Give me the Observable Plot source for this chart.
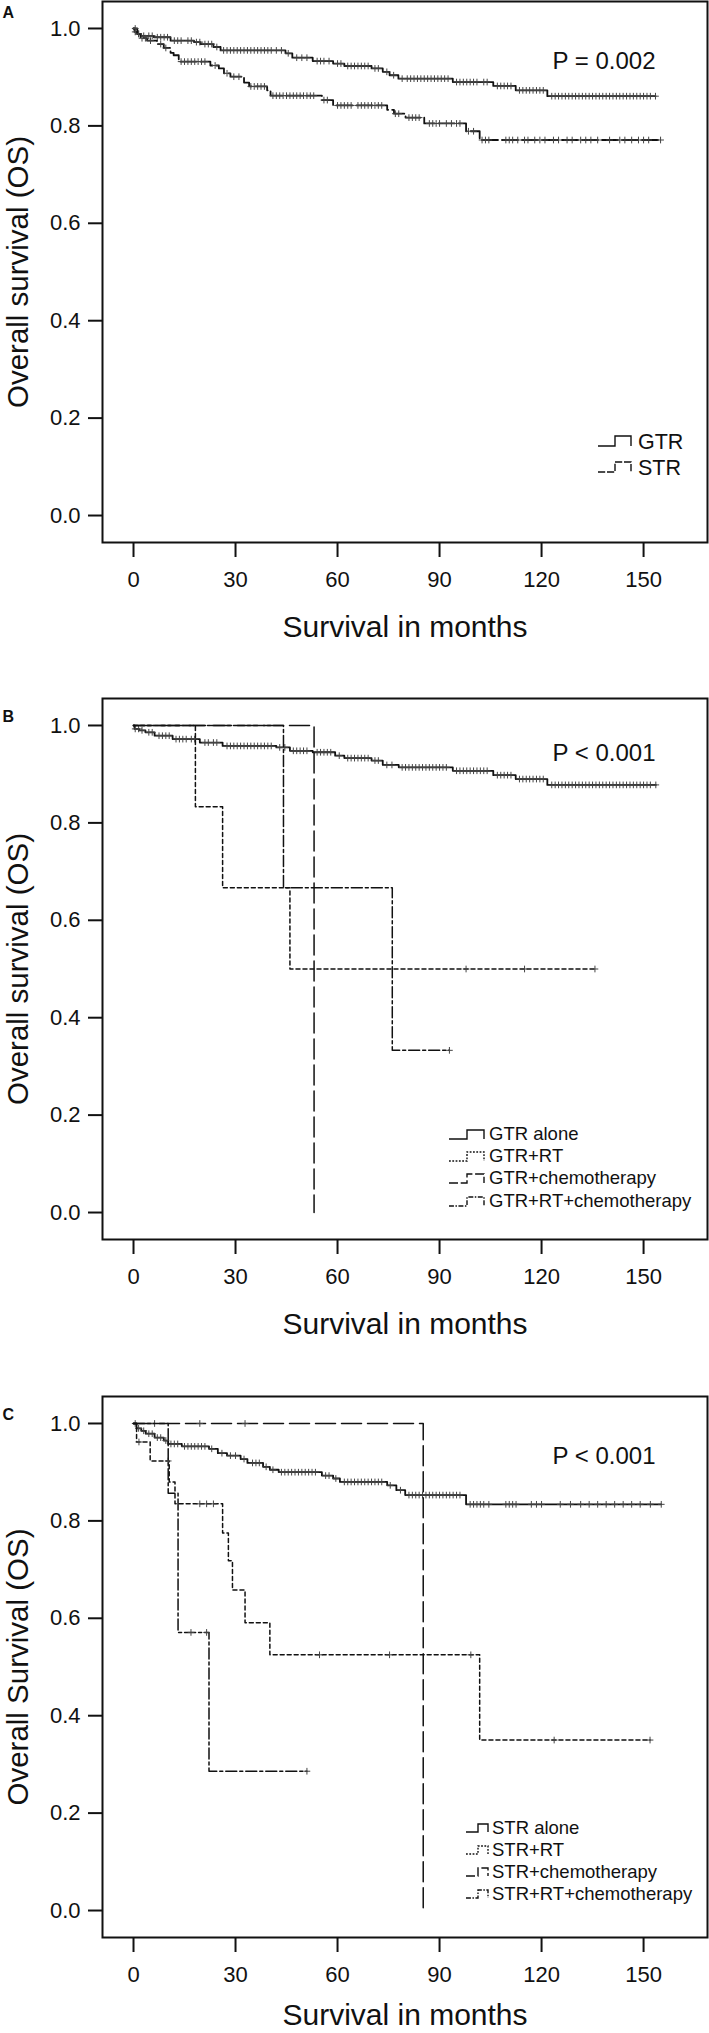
<!DOCTYPE html>
<html><head><meta charset="utf-8">
<script src="https://cdn.jsdelivr.net/npm/d3@7"></script>
<script src="https://cdn.jsdelivr.net/npm/@observablehq/plot@0.6"></script>
<style>
body{margin:0;background:#fff;}
#chart{width:709px;height:2033px;overflow:hidden;}
#chart svg{display:block;}
</style></head><body><div id="chart"></div>
<script>
// ---------- shared axis data ----------
const xTicks = [0, 30, 60, 90, 120, 150];
const yTicks = [0, 0.2, 0.4, 0.6, 0.8, 1.0];
const xTitle = "Survival in months";

// ---------- Panel A ----------
const aGTR_t = [0.3, 1.1, 2.1, 6.0, 10.9, 17.8, 19.7, 23.5, 25.6, 44.7, 46.7, 52.7, 58.7, 62.0, 70.0, 73.3, 75.3, 77.9, 93.9, 105.8, 112.4, 121.7];
const aGTR_s = [0.993, 0.989, 0.985, 0.982, 0.975, 0.972, 0.968, 0.962, 0.955, 0.949, 0.940, 0.933, 0.928, 0.923, 0.918, 0.911, 0.904, 0.897, 0.890, 0.882, 0.873, 0.861];
const aGTR_end = 153.5;
const aGTR_c = [0.5, 1.5, 3, 4.5, 5.5, 7, 8, 9, 10, 12, 13, 14, 16, 17, 18.5, 19.5, 21, 22, 23, 24.5, 26.5, 27.5, 28.5, 29.5, 30.5, 31.5, 32.5, 33.5, 34.5, 35.5, 36.5, 37.5, 38.5, 39.5, 40.5, 42, 43.5, 45.5, 48, 49.5, 51, 54, 55, 56, 57.5, 60, 61, 63, 64, 65, 66, 67, 68, 69, 71, 72, 74.5, 76.5, 79, 80.5, 81.5, 82.5, 83.5, 84.5, 85.5, 86.5, 87.5, 88.5, 89.5, 90.5, 91.5, 92.5, 95, 96, 97, 98, 99, 100, 101, 103, 104, 107, 108, 109, 110, 111, 113.5, 114.5, 115.5, 116.5, 117.5, 118.5, 119.5, 120.5, 123, 124, 125, 126, 127, 128, 129, 130, 131, 132, 133, 134, 135, 136, 137, 138, 139, 140, 141, 142, 143, 144, 145, 146, 147, 148, 149, 150, 151, 152, 153.5];

const aSTR_t = [1.1, 2.1, 4.0, 6.9, 8.9, 10.9, 11.8, 13.3, 22.6, 25.1, 26.6, 28.5, 32.5, 34.0, 39.3, 40.3, 55.4, 58.7, 74.6, 76.6, 80.0, 85.5, 97.8, 101.8];
const aSTR_s = [0.989, 0.980, 0.975, 0.968, 0.960, 0.950, 0.945, 0.932, 0.924, 0.918, 0.908, 0.901, 0.889, 0.881, 0.873, 0.862, 0.853, 0.842, 0.833, 0.825, 0.817, 0.805, 0.789, 0.771];
const aSTR_end = 155;
const aSTR_c = [0.5, 1.5, 2.5, 3.5, 5, 8, 9.5, 14, 15, 16, 17, 18, 19, 20, 21, 24, 27.5, 29.5, 31, 34.5, 35.5, 36.5, 37.5, 38.5, 41, 42, 43, 44, 45, 46, 47, 48, 49, 50, 51, 52, 53, 56, 57, 60, 61, 62, 63, 64, 66, 67, 68, 69, 70, 71, 72, 73, 77, 78, 81, 82, 83, 84, 87, 88, 89, 90, 92, 93.5, 95, 96, 98.5, 100, 102.5, 103.5, 104.5, 109.5, 110.5, 111.5, 113, 115, 116, 118, 119.5, 121, 123.5, 125, 127.5, 129, 131.5, 133, 134.5, 136.5, 140, 143, 144.5, 146.5, 148.5, 150, 151.5, 155];

// ---------- Panel B ----------
const bAlone_t = [0.3, 1.6, 3.5, 6.2, 11.5, 19.5, 26.2, 42.0, 46.0, 52.7, 59.3, 62.0, 70.0, 73.3, 78.0, 93.9, 105.8, 112.4, 121.7];
const bAlone_s = [0.993, 0.990, 0.986, 0.979, 0.972, 0.965, 0.958, 0.955, 0.948, 0.945, 0.938, 0.933, 0.928, 0.919, 0.914, 0.907, 0.898, 0.890, 0.878];
const bAlone_end = 153.6;
const bAlone_c = [0.5, 1.5, 2.5, 4.5, 5.5, 7.5, 8.5, 9.5, 10.5, 12.5, 13.5, 14.5, 15.5, 17, 18, 21, 22, 23.5, 24.5, 27.5, 28.5, 29.5, 30.5, 31.5, 32.5, 33.5, 34.5, 35.5, 36.5, 37.5, 38.5, 39.5, 40.5, 43, 44.5, 47, 48, 49, 50, 51, 54, 55, 56, 57, 58, 60.5, 63, 64, 65, 66, 67, 68, 69, 71, 72, 74.5, 76, 79, 80, 81, 82, 83, 84, 85, 86, 87, 88, 89, 90, 91, 92, 95, 96, 97, 98, 99, 100, 101, 102, 103, 104, 107, 108, 109, 110, 111, 113.5, 114.5, 115.5, 116.5, 117.5, 118.5, 119.5, 120.5, 123, 124, 125, 126, 127, 128, 129, 130, 131, 132, 133, 134, 135, 136, 137, 138, 139, 140, 141, 142, 143, 144, 145, 146, 147, 148, 149, 150, 151, 152, 153.6];

const bRT_t = [18.2, 26.2, 46.0];
const bRT_s = [0.833, 0.667, 0.5];
const bRT_end = 135.7;
const bRT_c = [97.8, 115.0, 135.7];

const bChemo_t = [53.1];
const bChemo_s = [0];
const bChemo_end = 53.1;
const bChemo_c = [];

const bRTChemo_t = [44.1, 76.1];
const bRTChemo_s = [0.667, 0.333];
const bRTChemo_end = 92.9;
const bRTChemo_c = [92.9];

// ---------- Panel C ----------
const cAlone_t = [0.9, 2.3, 3.6, 6.2, 8.9, 10.2, 14.2, 22.2, 24.8, 27.5, 31.5, 33.5, 38.1, 40.1, 42.7, 55.4, 58.7, 60.7, 74.6, 77.3, 79.9, 97.8];
const cAlone_s = [0.990, 0.985, 0.979, 0.971, 0.965, 0.958, 0.953, 0.948, 0.939, 0.934, 0.927, 0.919, 0.911, 0.905, 0.900, 0.893, 0.887, 0.880, 0.873, 0.863, 0.853, 0.834];
const cAlone_end = 155.2;
const cAlone_c = [0.5, 1.5, 3, 4.5, 5.5, 7, 8, 9.5, 11, 12, 13, 15, 16, 17, 18, 19, 20, 21, 23, 26, 28.5, 30, 32.5, 35, 36, 37, 39, 41, 43.5, 44.5, 45.5, 46.5, 47.5, 48.5, 49.5, 50.5, 51.5, 52.5, 53.5, 56.5, 57.5, 59.5, 62, 63, 64, 65, 66, 67, 68, 69, 70, 71, 72, 73, 75.5, 78.5, 81, 82, 83, 84, 85, 86, 87, 88, 89, 90, 91, 92, 93, 94, 95, 96, 99, 100, 101, 102, 103, 104.5, 109.5, 110.5, 111.5, 112.5, 117, 118.5, 120, 125.5, 128.5, 131.5, 134, 136.5, 139, 141.5, 144, 146.5, 149, 152, 155.2];

const cRT_t = [0.9, 4.9, 10.5, 12.2, 26.2, 27.9, 29.1, 32.8, 40.1, 101.8];
const cRT_s = [0.962, 0.923, 0.880, 0.835, 0.775, 0.718, 0.658, 0.591, 0.525, 0.350];
const cRT_end = 151.9;
const cRT_c = [1.6, 10.2, 19.5, 21.5, 23.5, 54.7, 75.3, 99.2, 123.7, 151.9];

const cChemo_t = [85.2];
const cChemo_s = [0];
const cChemo_end = 85.2;
const cChemo_c = [6.2, 19.5, 32.8];

const cRTChemo_t = [10.2, 13.1, 22.2];
const cRTChemo_s = [0.857, 0.571, 0.286];
const cRTChemo_end = 51.0;
const cRTChemo_c = [16.9, 21.5, 51.0];

// ---------- styles ----------
const SOLID = null, DOTTED = "4,3", LONGDASH = "20,6", DASHDOT = "11,3,3,3", ADASH = "16,4";
const FONT = "'Liberation Sans', Arial, Helvetica, sans-serif";

function ser(label, t, s, end, c, dash, w) { return {label, t, s, end, c, dash, w}; }

const panels = [
  {
    tag: "A", p: "P = 0.002", yTitle: "Overall survival (OS)", height: 697,
    tagDy: 16, pDy: 67, xDy: 94, legendFont: 21.5,
    legend: {x: -69, rows: [93, 67], g: [-40, -23, -7], gt: 13, gb: 3},
    series: [
      ser("GTR", aGTR_t, aGTR_s, aGTR_end, aGTR_c, SOLID, 1.8),
      ser("STR", aSTR_t, aSTR_s, aSTR_end, aSTR_c, ADASH, 1.8)
    ]
  },
  {
    tag: "B", p: "P < 0.001", yTitle: "Overall survival (OS)", height: 698,
    tagDy: 23, pDy: 62, xDy: 94, legendFont: 18.5,
    legend: {x: -218, rows: [99, 77, 55, 32], g: [-40, -22, -5], gt: 10, gb: 1},
    series: [
      ser("GTR alone", bAlone_t, bAlone_s, bAlone_end, bAlone_c, SOLID, 1.8),
      ser("GTR+RT", bRT_t, bRT_s, bRT_end, bRT_c, DOTTED, 1.5),
      ser("GTR+chemotherapy", bChemo_t, bChemo_s, bChemo_end, bChemo_c, LONGDASH, 1.5),
      ser("GTR+RT+chemotherapy", bRTChemo_t, bRTChemo_s, bRTChemo_end, bRTChemo_c, DASHDOT, 1.5)
    ]
  },
  {
    tag: "C", p: "P < 0.001", yTitle: "Overall Survival (OS)", height: 638,
    tagDy: 23, pDy: 67, xDy: 87, legendFont: 18.5,
    legend: {x: -215, rows: [103, 81, 59, 37], g: [-26, -14, -4], gt: 10, gb: 2},
    series: [
      ser("STR alone", cAlone_t, cAlone_s, cAlone_end, cAlone_c, SOLID, 1.8),
      ser("STR+RT", cRT_t, cRT_s, cRT_end, cRT_c, DOTTED, 1.5),
      ser("STR+chemotherapy", cChemo_t, cChemo_s, cChemo_end, cChemo_c, LONGDASH, 1.5),
      ser("STR+RT+chemotherapy", cRTChemo_t, cRTChemo_s, cRTChemo_end, cRTChemo_c, DASHDOT, 1.5)
    ]
  }
];

function stepPoints(sr) {
  const pts = [{t: 0, s: 1, g: sr.label}];
  sr.t.forEach((t, i) => pts.push({t, s: sr.s[i], g: sr.label}));
  pts.push({t: sr.end, s: sr.s.length ? sr.s[sr.s.length - 1] : 1, g: sr.label});
  return pts;
}
function survAt(sr, c) {
  const i = d3.bisectRight(sr.t, c);
  return i === 0 ? 1 : sr.s[i - 1];
}

const MT = 1, ML = 102, MR = 2, W = 709;
const root = document.getElementById("chart");

panels.forEach(pn => {
  const marks = [
    Plot.frame({stroke: "#111", strokeWidth: 2}),
    Plot.axisX({ticks: xTicks, tickSize: 15, tickPadding: 14, strokeWidth: 2, stroke: "#111", fill: "#111", fontSize: 22, label: null}),
    Plot.axisY({ticks: yTicks, tickFormat: d3.format(".1f"), tickSize: 14, tickPadding: 8, strokeWidth: 2, stroke: "#111", fill: "#111", fontSize: 22, label: null})
  ];
  pn.series.forEach(sr => {
    marks.push(Plot.line(stepPoints(sr), {x: "t", y: "s", curve: "step-after", stroke: "#111", strokeWidth: sr.w, strokeDasharray: sr.dash || undefined}));
    const cens = sr.c.map(c => ({t: c, s: survAt(sr, c)}));
    marks.push(Plot.dot(cens, {x: "t", y: "s", symbol: "plus", r: 2.3, stroke: "#444", strokeWidth: 1}));
  });
  marks.push(Plot.text([pn.p], {frameAnchor: "top-right", textAnchor: "end", lineAnchor: "bottom", dx: -52, dy: pn.pDy, fontSize: 24, fill: "#111"}));
  marks.push(Plot.text([pn.tag], {frameAnchor: "top-left", textAnchor: "start", lineAnchor: "bottom", dx: -100, dy: pn.tagDy, fontSize: 16, fontWeight: "bold", fill: "#111"}));
  marks.push(Plot.text([xTitle], {frameAnchor: "bottom", textAnchor: "middle", lineAnchor: "bottom", dy: pn.xDy, fontSize: 30, fill: "#111"}));
  marks.push(Plot.text([pn.yTitle], {frameAnchor: "left", textAnchor: "middle", rotate: -90, lineAnchor: "bottom", dx: -75, fontSize: 29.5, fill: "#111"}));

  const plot = Plot.plot({
    width: W, height: pn.height,
    marginTop: MT, marginBottom: pn.height - 542, marginLeft: ML, marginRight: MR,
    x: {domain: [-9.12, 168.8]},
    y: {domain: [-0.0554, 1.0554]},
    style: {fontFamily: FONT, fontSize: "21px", color: "#111", background: "white", overflow: "visible"},
    marks
  });
  root.appendChild(plot);

  // legend inside the frame (bottom-right)
  const svg = d3.select(plot);
  const fr = W - MR, fb = 542;
  const lg = svg.append("g").attr("font-family", FONT).attr("font-size", pn.legendFont).attr("fill", "#111").attr("text-anchor", "start");
  pn.series.forEach((sr, i) => {
    const bx = fr + pn.legend.x, by = fb - pn.legend.rows[i];
    const [g0, g1, g2] = pn.legend.g;
    lg.append("path")
      .attr("d", `M${bx + g0},${by - pn.legend.gb}H${bx + g1}V${by - pn.legend.gt}H${bx + g2}V${by - pn.legend.gb}`)
      .attr("fill", "none").attr("stroke", "#111").attr("stroke-width", 1.4)
      .attr("stroke-dasharray", sr.dash ? sr.dash.split(",").map(v => Math.max(1.5, v * 0.45)).join(",") : null);
    lg.append("text").attr("x", bx).attr("y", by).attr("text-anchor", "start").text(sr.label);
  });
});
</script></body></html>
